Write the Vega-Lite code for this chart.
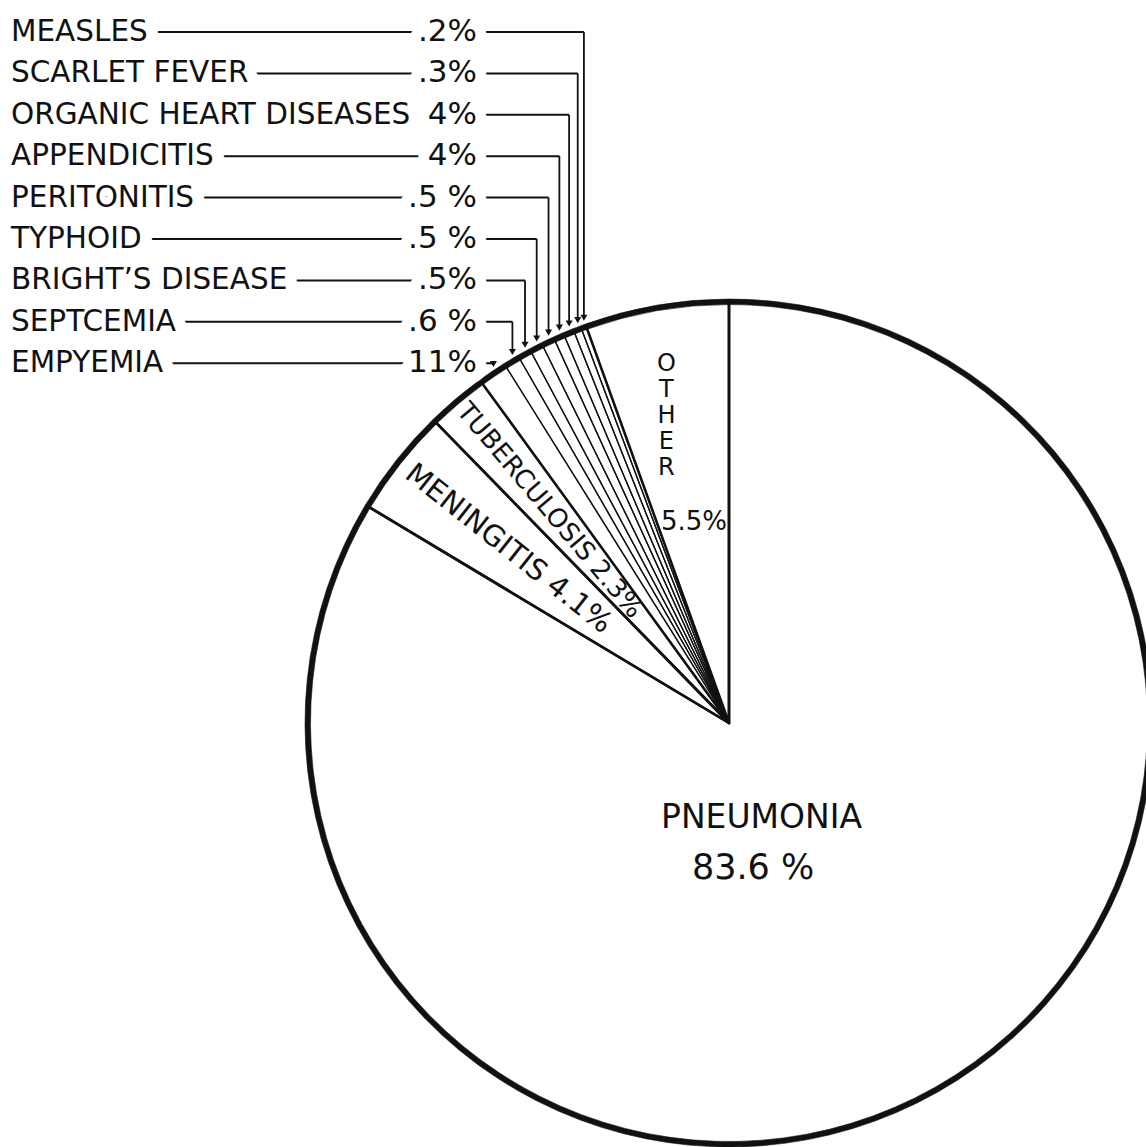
{
  "$schema": "https://vega.github.io/schema/vega-lite/v6.json",
  "width": 1146,
  "height": 1147,
  "padding": 0,
  "autosize": {"type": "none"},
  "background": "#ffffff",
  "config": {"view": {"stroke": null}},
  "data": {
    "values": [
      {"cause": "PNEUMONIA", "pct": 83.6, "order": 1, "label": "PNEUMONIA", "shown": "83.6 %"},
      {"cause": "MENINGITIS", "pct": 4.1, "order": 2, "label": "MENINGITIS 4.1%", "shown": "4.1%"},
      {"cause": "TUBERCULOSIS", "pct": 2.3, "order": 3, "label": "TUBERCULOSIS 2.3%", "shown": "2.3%"},
      {"cause": "EMPYEMIA", "pct": 1.1, "order": 4, "rank": 9, "label": "EMPYEMIA", "shown": "11%"},
      {"cause": "SEPTCEMIA", "pct": 0.6, "order": 5, "rank": 8, "label": "SEPTCEMIA", "shown": ".6 %"},
      {"cause": "BRIGHT’S DISEASE", "pct": 0.5, "order": 6, "rank": 7, "label": "BRIGHT’S DISEASE", "shown": ".5%"},
      {"cause": "TYPHOID", "pct": 0.5, "order": 7, "rank": 6, "label": "TYPHOID", "shown": ".5 %"},
      {"cause": "PERITONITIS", "pct": 0.5, "order": 8, "rank": 5, "label": "PERITONITIS", "shown": ".5 %"},
      {"cause": "APPENDICITIS", "pct": 0.4, "order": 9, "rank": 4, "label": "APPENDICITIS", "shown": "4%"},
      {"cause": "ORGANIC HEART DISEASES", "pct": 0.4, "order": 10, "rank": 3, "label": "ORGANIC HEART DISEASES", "shown": "4%"},
      {"cause": "SCARLET FEVER", "pct": 0.3, "order": 11, "rank": 2, "label": "SCARLET FEVER", "shown": ".3%"},
      {"cause": "MEASLES", "pct": 0.2, "order": 12, "rank": 1, "label": "MEASLES", "shown": ".2%"},
      {"cause": "OTHER", "pct": 5.5, "order": 13, "label": ["O", "T", "H", "E", "R"], "shown": "5.5%"}
    ]
  },
  "transform": [
    {"window": [{"op": "sum", "field": "pct", "as": "cum"}], "sort": [{"field": "order", "order": "ascending"}], "frame": [null, 0]},
    {"calculate": "2 * PI * (datum.cum - datum.pct / 2) / 100", "as": "ang"},
    {"calculate": "729 + 421 * sin(datum.ang)", "as": "ex"},
    {"calculate": "723 - 421 * cos(datum.ang) - 10", "as": "tipY"},
    {"calculate": "32 + 41.4 * (datum.rank - 1)", "as": "ry"}
  ],
  "layer": [
    {
      "mark": {"type": "arc", "x": 729, "y": 723, "outerRadius": 421, "fill": "#ffffff", "strokeWidth": 0},
      "encoding": {
        "theta": {"field": "pct", "type": "quantitative", "stack": true},
        "order": {"field": "order", "type": "quantitative"}
      }
    },
    {
      "mark": {"type": "arc", "x": 729, "y": 723, "outerRadius": 421, "fill": "#ffffff", "fillOpacity": 0, "stroke": "#111111", "strokeJoin": "round"},
      "encoding": {
        "theta": {"field": "pct", "type": "quantitative", "stack": true},
        "order": {"field": "order", "type": "quantitative"},
        "strokeWidth": {"condition": {"test": "datum.pct >= 2", "value": 2.6}, "value": 1.3}
      }
    },
    {
      "mark": {"type": "arc", "x": 729, "y": 723, "innerRadius": 418.5, "outerRadius": 424, "fill": "#111111", "stroke": "#111111", "strokeWidth": 0.6},
      "encoding": {
        "theta": {"field": "pct", "type": "quantitative", "stack": true},
        "order": {"field": "order", "type": "quantitative"}
      }
    },
    {
      "mark": {"type": "text", "x": 729, "y": 723, "radius": 108.6, "dx": -21, "font": "DejaVu Sans, sans-serif", "fontSize": 33, "align": "center", "baseline": "middle", "color": "#111111"},
      "encoding": {
        "theta": {"field": "pct", "type": "quantitative", "stack": true},
        "order": {"field": "order", "type": "quantitative"},
        "text": {"condition": {"test": "datum.cause === 'PNEUMONIA'", "field": "label", "type": "nominal"}, "value": ""}
      }
    },
    {
      "mark": {"type": "text", "x": 729, "y": 723, "radius": 166.6, "dx": -58, "font": "DejaVu Sans, sans-serif", "fontSize": 35, "align": "center", "baseline": "middle", "color": "#111111"},
      "encoding": {
        "theta": {"field": "pct", "type": "quantitative", "stack": true},
        "order": {"field": "order", "type": "quantitative"},
        "text": {"condition": {"test": "datum.cause === 'PNEUMONIA'", "field": "shown", "type": "nominal"}, "value": ""}
      }
    },
    {
      "mark": {"type": "text", "x": 729, "y": 723, "radius": 281, "angle": 38.3, "font": "DejaVu Sans, sans-serif", "fontSize": 29, "align": "center", "baseline": "middle", "color": "#111111"},
      "encoding": {
        "theta": {"field": "pct", "type": "quantitative", "stack": true},
        "order": {"field": "order", "type": "quantitative"},
        "text": {"condition": {"test": "datum.cause === 'MENINGITIS'", "field": "label", "type": "nominal"}, "value": ""}
      }
    },
    {
      "mark": {"type": "text", "x": 729, "y": 723, "radius": 278, "angle": 49.8, "font": "DejaVu Sans, sans-serif", "fontSize": 26, "align": "center", "baseline": "middle", "color": "#111111"},
      "encoding": {
        "theta": {"field": "pct", "type": "quantitative", "stack": true},
        "order": {"field": "order", "type": "quantitative"},
        "text": {"condition": {"test": "datum.cause === 'TUBERCULOSIS'", "field": "label", "type": "nominal"}, "value": ""}
      }
    },
    {
      "mark": {"type": "text", "x": 729, "y": 723, "radius": 364, "lineHeight": 26, "font": "DejaVu Sans, sans-serif", "fontSize": 24, "align": "center", "baseline": "middle", "color": "#111111"},
      "encoding": {
        "theta": {"field": "pct", "type": "quantitative", "stack": true},
        "order": {"field": "order", "type": "quantitative"},
        "text": {"condition": {"test": "datum.cause === 'OTHER'", "field": "label", "type": "nominal"}, "value": ""}
      }
    },
    {
      "mark": {"type": "text", "x": 729, "y": 723, "radius": 204, "font": "DejaVu Sans, sans-serif", "fontSize": 26, "align": "center", "baseline": "middle", "color": "#111111"},
      "encoding": {
        "theta": {"field": "pct", "type": "quantitative", "stack": true},
        "order": {"field": "order", "type": "quantitative"},
        "text": {"condition": {"test": "datum.cause === 'OTHER'", "field": "shown", "type": "nominal"}, "value": ""}
      }
    },
    {
      "transform": [{"filter": "isValid(datum.rank)"}],
      "mark": {"type": "rule", "color": "#111111", "strokeWidth": 2},
      "encoding": {
        "x": {"field": "ex", "type": "quantitative", "scale": {"domain": [0, 1146], "nice": false, "zero": false}, "axis": null},
        "x2": {"value": 60},
        "y": {"field": "ry", "type": "quantitative", "scale": {"domain": [0, 1147], "reverse": true, "nice": false, "zero": false}, "axis": null}
      }
    },
    {
      "transform": [{"filter": "isValid(datum.rank)"}],
      "mark": {"type": "rule", "color": "#111111", "strokeWidth": 1.8},
      "encoding": {
        "x": {"field": "ex", "type": "quantitative", "scale": {"domain": [0, 1146], "nice": false, "zero": false}, "axis": null},
        "y": {"field": "ry", "type": "quantitative", "scale": {"domain": [0, 1147], "reverse": true, "nice": false, "zero": false}, "axis": null},
        "y2": {"field": "tipY"}
      }
    },
    {
      "transform": [{"filter": "isValid(datum.rank)"}],
      "mark": {"type": "text", "x": 11, "align": "left", "baseline": "middle", "font": "DejaVu Sans, sans-serif", "fontSize": 29.5, "fill": "#ffffff", "stroke": "#ffffff", "strokeWidth": 24, "strokeJoin": "round"},
      "encoding": {
        "y": {"field": "ry", "type": "quantitative", "scale": {"domain": [0, 1147], "reverse": true, "nice": false, "zero": false}, "axis": null},
        "text": {"field": "label", "type": "nominal"}
      }
    },
    {
      "transform": [{"filter": "isValid(datum.rank)"}],
      "mark": {"type": "text", "x": 477, "align": "right", "baseline": "middle", "font": "DejaVu Sans, sans-serif", "fontSize": 31, "fill": "#ffffff", "stroke": "#ffffff", "strokeWidth": 22, "strokeJoin": "round"},
      "encoding": {
        "y": {"field": "ry", "type": "quantitative", "scale": {"domain": [0, 1147], "reverse": true, "nice": false, "zero": false}, "axis": null},
        "text": {"field": "shown", "type": "nominal"}
      }
    },
    {
      "transform": [{"filter": "isValid(datum.rank)"}],
      "mark": {"type": "text", "x": 11, "align": "left", "baseline": "middle", "font": "DejaVu Sans, sans-serif", "fontSize": 29.5, "color": "#111111"},
      "encoding": {
        "y": {"field": "ry", "type": "quantitative", "scale": {"domain": [0, 1147], "reverse": true, "nice": false, "zero": false}, "axis": null},
        "text": {"field": "label", "type": "nominal"}
      }
    },
    {
      "transform": [{"filter": "isValid(datum.rank)"}],
      "mark": {"type": "text", "x": 477, "align": "right", "baseline": "middle", "font": "DejaVu Sans, sans-serif", "fontSize": 31, "color": "#111111"},
      "encoding": {
        "y": {"field": "ry", "type": "quantitative", "scale": {"domain": [0, 1147], "reverse": true, "nice": false, "zero": false}, "axis": null},
        "text": {"field": "shown", "type": "nominal"}
      }
    },
    {
      "transform": [{"filter": "isValid(datum.rank)"}],
      "mark": {"type": "point", "shape": "triangle-down", "filled": true, "size": 50, "color": "#111111", "opacity": 1},
      "encoding": {
        "x": {"field": "ex", "type": "quantitative", "scale": {"domain": [0, 1146], "nice": false, "zero": false}, "axis": null},
        "y": {"field": "tipY", "type": "quantitative", "scale": {"domain": [0, 1147], "reverse": true, "nice": false, "zero": false}, "axis": null}
      }
    }
  ]
}
